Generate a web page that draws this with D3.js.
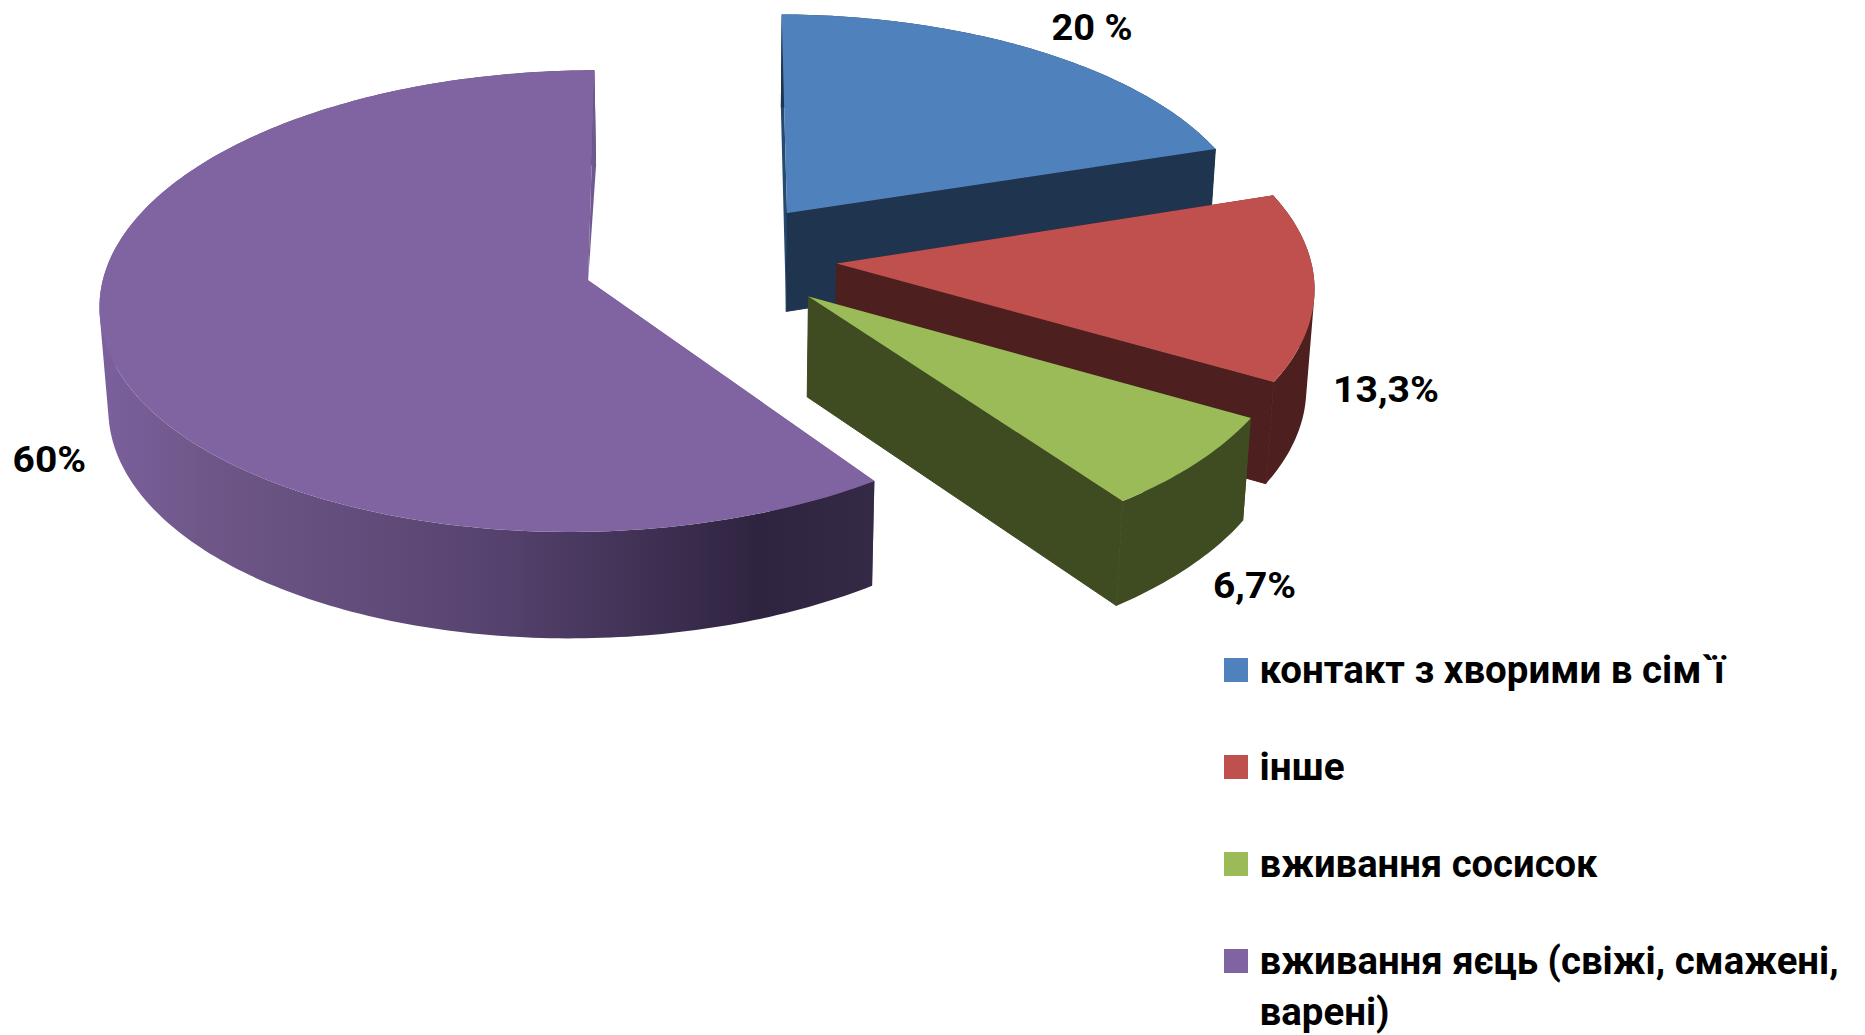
<!DOCTYPE html>
<html><head><meta charset="utf-8">
<script src="https://cdnjs.cloudflare.com/ajax/libs/d3/7.9.0/d3.min.js"></script>
<style>html,body{margin:0;padding:0;background:#fff}svg{display:block}text{font-family:Roboto,"Open Sans",sans-serif;font-weight:700;fill:#000}</style>
</head><body><svg id="c" width="1865" height="1035"></svg>
<script>
const categories = ["контакт з хворими в сім`ї","інше","вживання сосисок","вживання яєць (свіжі, смажені, варені)"];
const values = [20,13.3,6.7,60];
const valueLabels = ["20 %","13,3%","6,7%","60%"];
const legendLines = [["контакт з хворими в сім`ї"],["інше"],["вживання сосисок"],["вживання яєць (свіжі, смажені,","варені)"]];
const topColors = ["#4f81bd","#c0504d","#9bbb59","#8064a2"];
const wallColors = ["#1f344f","#4e1f1f","#3f4b20","url(#purpleWall)"];
const backWallColors = ["#26496f","#4e1f1f","#3f4b20","#6f5a8f"];

// layout (projection of the pie plane, slice explosion in pie-radius units)
const cam = {ox:720, oy:255, A:478, B:226, p:.09, q:.01, dz:.014, H:101};
const explodeX = [.1428,.2437,.1824,-.2723];
const explodeY = [-.1892,.0381,.1806,.1105];
const radiusX = [1,1.005,1.005,.99];
const radiusY = [.99,1.01,1.012,.99];
const startTrim = [0,0,0,.0154];
const endTrim = [0,0,0,.0105];
const labelBox = [[1051.5,39.5,81],[1333,402,106],[1213,598,83],[12.6,472,73.5]];
const legendGeom = {sx:1224, sw:24, sy:658, step:97, tx:1259.6, base:24.7, lh:51.7, widths:[[465],[85],[338],[579,130]]};

const svg = d3.select("#c");
const defs = svg.append("defs");
const grad = defs.append("linearGradient").attr("id","purpleWall").attr("gradientUnits","userSpaceOnUse")
  .attr("x1",99).attr("x2",874).attr("y1",0).attr("y2",0);
[[0,"#7b609e"],[.13,"#6f5889"],[.5,"#574370"],[.85,"#2f2440"],[1,"#352a45"]].forEach(s=>grad.append("stop").attr("offset",s[0]).attr("stop-color",s[1]));

function project(X,Y,bottom){
  const w = 1 - cam.p*Y + cam.q*X + (bottom?cam.dz:0);
  return [cam.ox + cam.A*X/w, cam.oy + (cam.B*Y + (bottom?cam.H:0))/w];
}
const pie = d3.pie().sort(null).value(d=>d);
const arcs = pie(values);
const line = d3.line();
const g = svg.append("g");

arcs.forEach((a,i)=>{
  const ex=explodeX[i], ey=explodeY[i], a0=a.startAngle+startTrim[i], a1=a.endAngle-endTrim[i];
  const n=Math.max(8,Math.ceil((a1-a0)*60));
  const rim=d3.range(n+1).map(k=>{const t=a0+(a1-a0)*k/n;return [ex+radiusX[i]*Math.sin(t),ey-radiusY[i]*Math.cos(t)];});
  const topRim=rim.map(p=>project(p[0],p[1],false));
  const botRim=rim.map(p=>project(p[0],p[1],true));
  const apexT=project(ex,ey,false), apexB=project(ex,ey,true);
  const sl=g.append("g").attr("class","slice");
  const face=(pts,fill,seal)=>{
    const p=sl.append("path").attr("d",line(pts)+"Z").attr("fill",fill);
    if(seal) p.attr("stroke",fill).attr("stroke-width",1).attr("stroke-linejoin","round");
  };
  face([apexT,topRim[0],botRim[0],apexB],backWallColors[i],false);
  // the outer wall: one path of same-winding quads, so that the silhouette closes without seams
  const quads=d3.range(n).map(k=>{
    const q=[topRim[k],topRim[k+1],botRim[k+1],botRim[k]];
    return d3.polygonArea(q)<0?q.reverse():q;
  });
  sl.append("path").attr("d",quads.map(q=>line(q)+"Z").join("")).attr("fill",wallColors[i]);
  if(i===3) face([apexT,topRim[n],botRim[n]],backWallColors[3],false);
  else face([apexT,topRim[n],botRim[n],apexB],wallColors[i],true);
  sl.append("path").attr("d",line([apexT].concat(topRim))+"Z").attr("fill",topColors[i]);
});

function fitText(sel,str,x,y,width,size){
  sel.append("text").attr("x",x).attr("y",y).attr("font-size",size)
    .attr("textLength",width).attr("lengthAdjust","spacingAndGlyphs").text(str);
}
valueLabels.forEach((t,i)=>fitText(svg,t,labelBox[i][0],labelBox[i][1],labelBox[i][2],36));

const lg=svg.append("g");
categories.forEach((c,i)=>{
  const y=legendGeom.sy+i*legendGeom.step;
  lg.append("rect").attr("x",legendGeom.sx).attr("y",y).attr("width",legendGeom.sw).attr("height",legendGeom.sw).attr("fill",topColors[i]);
  legendLines[i].forEach((t,j)=>fitText(lg,t,legendGeom.tx,y+legendGeom.base+j*legendGeom.lh,legendGeom.widths[i][j],38));
});
</script></body></html>
